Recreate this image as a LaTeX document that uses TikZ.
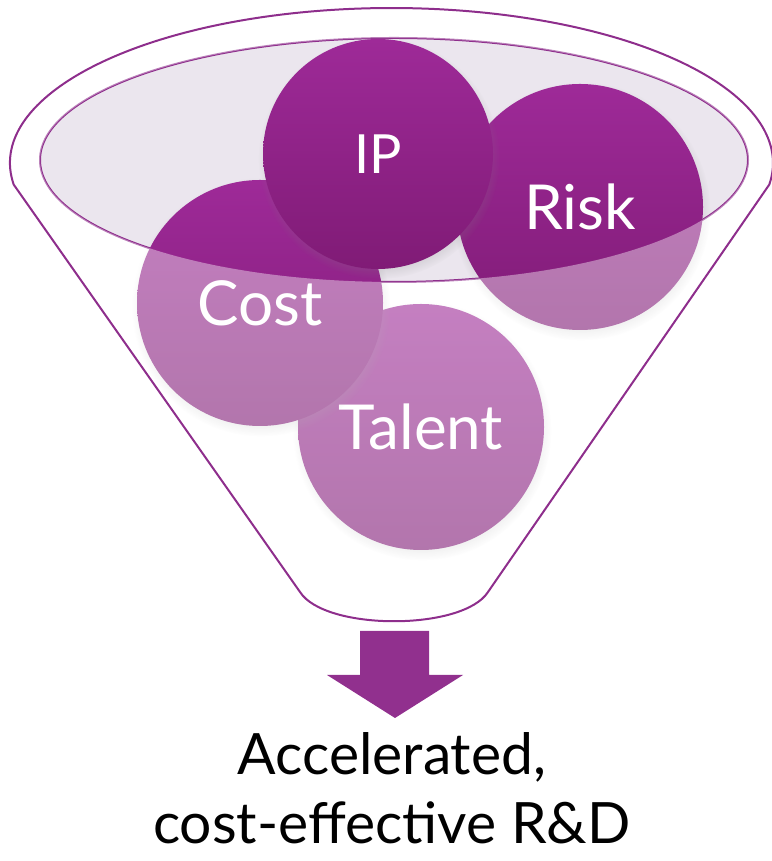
\documentclass[tikz,border=0pt]{standalone}
\usepackage{fontspec}
\setmainfont{Lato}
\usetikzlibrary{shapes,shadows,fadings}
\definecolor{plum}{HTML}{8E2E8C}
\definecolor{plumtop}{HTML}{9E2A98}
\definecolor{plumbot}{HTML}{801B76}
\definecolor{lavender}{HTML}{EBE6EE}
\definecolor{arrowplum}{HTML}{91308E}
\tikzstyle{ball} = [circle, draw=none, top color=plumtop, bottom color=plumbot,
    text=white, inner sep=0pt, minimum size=246pt,
    circular drop shadow={shadow scale=1.05, shadow xshift=1pt, shadow yshift=-4pt, opacity=0.3},
    font=\fontsize{62}{62}\selectfont]
\tikzstyle{rim} = [draw=plum, line width=2pt]

\begin{document}
\begin{tikzpicture}[x=1pt,y=1pt]
  \useasboundingbox (0,0) rectangle (771,861);

  % mouth of the funnel
  \coordinate (mouth) at (394,701);
  \fill[lavender] (mouth) ellipse [x radius=354, y radius=122];
  \draw[rim] (mouth) ellipse [x radius=354, y radius=122];

  \node[ball]   (talent) at (421,434) {Talent};
  \node[ball]   (cost)   at (260,558) {Cost};
  \node[ball]   (risk)   at (580,654) {Risk};
  \node[ball, minimum size=230pt, font=\fontsize{54}{54}\selectfont] (ip) at (378,707) {IP};

  % funnel body
  \coordinate (lk) at (13.7,676.4);
  \coordinate (rb) at (488,269);
  \coordinate (lb) at (300,269);
  \fill[white, opacity=0.4, even odd rule]
    (lk) arc[start angle=188, end angle=-8, x radius=381.5, y radius=155]
    -- (rb) .. controls (463,230) and (325,230) .. (lb) -- cycle
    (mouth) ellipse [x radius=354, y radius=122];
  \draw[rim] (lk) arc[start angle=188, end angle=-8, x radius=381.5, y radius=155]
    -- (rb) .. controls (463,230) and (325,230) .. (lb) -- cycle;

  % down arrow
  \fill[arrowplum] (360,230) -- (429,230) -- (429,186) -- (463,186) -- (395,143)
    -- (327,186) -- (360,186) -- cycle;

  \node[font=\fontsize{57}{69}\selectfont, align=center, inner sep=0pt] (result) at (392,73)
    {Accelerated,\\cost-effective R\&D};
\end{tikzpicture}
\end{document}
